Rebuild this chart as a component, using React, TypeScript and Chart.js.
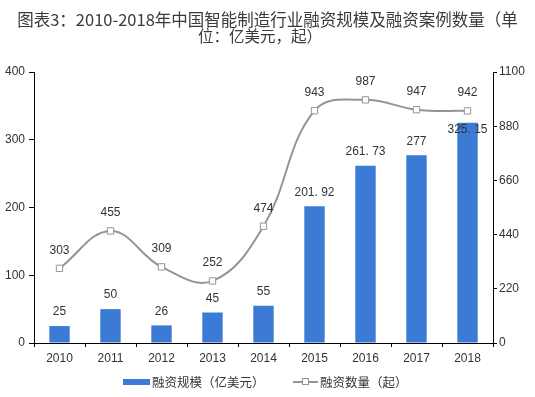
import React, { useEffect, useRef } from "react";
import { Chart, registerables } from "chart.js";

Chart.register(...registerables);

const categories = ["2010", "2011", "2012", "2013", "2014", "2015", "2016", "2017", "2018"];
const fundingValues = [25, 50, 26, 45, 55, 201.92, 261.73, 277, 325.15];
const fundingLabels = ["25", "50", "26", "45", "55", "201. 92", "261. 73", "277", "325. 15"];
const dealCounts = [303, 455, 309, 252, 474, 943, 987, 947, 942];
const leftTicks = [0, 100, 200, 300, 400];
const rightTicks = [0, 220, 440, 660, 880, 1100];

const titleLines = ["图表3：2010-2018年中国智能制造行业融资规模及融资案例数量（单", "位：亿美元，起）"];
const barSeriesName = "融资规模（亿美元）";
const lineSeriesName = "融资数量（起）";

const BAR_COLOR = "#3b7bd6";
const LINE_COLOR = "#8f979e";
const TEXT_COLOR = "#333333";
const NUM_FONT = '"Liberation Sans", Arial, sans-serif';
const CJK_FONT = '"Noto Sans CJK SC", "Liberation Sans", sans-serif';

const decorPlugin = {
  id: "decor",
  afterDatasetsDraw(chart: any) {
    const ctx = chart.ctx;
    const barMeta = chart.getDatasetMeta(0);
    const lineMeta = chart.getDatasetMeta(1);
    ctx.save();
    ctx.fillStyle = TEXT_COLOR;
    ctx.font = `12px ${NUM_FONT}`;
    ctx.textAlign = "center";
    ctx.textBaseline = "middle";
    lineMeta.data.forEach((pt: any, i: number) => {
      ctx.fillText(String(dealCounts[i]), pt.x, pt.y - 18);
    });
    barMeta.data.forEach((bar: any, i: number) => {
      let y = bar.y - 14;
      const pt = lineMeta.data[i];
      if (Math.abs(y - pt.y) < 16) y = bar.y + 7;
      ctx.fillText(fundingLabels[i], bar.x, y);
    });
    ctx.restore();
  },
  afterDraw(chart: any) {
    const ctx = chart.ctx;
    const w = chart.width;
    ctx.save();
    ctx.fillStyle = "#3a3a3a";
    ctx.textBaseline = "middle";
    ctx.font = `16.5px ${CJK_FONT}`;
    ctx.textAlign = "center";
    ctx.fillText(titleLines[0], w / 2, 20);
    ctx.font = `15.5px ${CJK_FONT}`;
    ctx.textAlign = "left";
    ctx.fillText(titleLines[1], 198, 36);

    // legend
    const ly = 382;
    ctx.font = `12.5px ${CJK_FONT}`;
    ctx.textAlign = "left";
    ctx.fillStyle = BAR_COLOR;
    ctx.fillRect(123, ly - 3, 27, 6);
    ctx.fillStyle = TEXT_COLOR;
    ctx.fillText(barSeriesName, 152, ly);

    ctx.strokeStyle = LINE_COLOR;
    ctx.lineWidth = 2;
    ctx.beginPath();
    ctx.moveTo(293, ly);
    ctx.lineTo(318, ly);
    ctx.stroke();
    ctx.fillStyle = "#ffffff";
    ctx.lineWidth = 1;
    ctx.fillRect(302, ly - 3, 6, 6);
    ctx.strokeRect(302.5, ly - 3.5, 6, 6);
    ctx.fillStyle = TEXT_COLOR;
    ctx.fillText(lineSeriesName, 320, ly);
    ctx.restore();
  },
};

export default function App() {
  const ref = useRef<HTMLCanvasElement>(null);
  useEffect(() => {
    if (!ref.current) return;
    const chart = new Chart(ref.current, {
      type: "bar",
      data: {
        labels: categories,
        datasets: [
          {
            type: "bar",
            label: barSeriesName,
            data: fundingValues,
            backgroundColor: BAR_COLOR,
            barPercentage: 0.4,
            categoryPercentage: 1,
            yAxisID: "y",
            order: 2,
          },
          {
            type: "line",
            label: lineSeriesName,
            data: dealCounts,
            borderColor: LINE_COLOR,
            borderWidth: 2,
            tension: 0.4,
            pointStyle: "rect",
            pointRadius: 4.5,
            pointBorderWidth: 1,
            pointBackgroundColor: "#ffffff",
            pointBorderColor: LINE_COLOR,
            yAxisID: "y1",
            order: 1,
          } as any,
        ],
      },
      options: {
        responsive: false,
        animation: false,
        devicePixelRatio: 1,
        layout: { padding: { top: 72, bottom: 34, left: 0, right: 0 } },
        plugins: {
          legend: { display: false },
          title: { display: false },
          tooltip: { enabled: false },
        },
        scales: {
          x: {
            grid: { offset: true, drawOnChartArea: false, tickLength: 4, color: "#000" },
            border: { color: "#000", width: 1 },
            ticks: { color: TEXT_COLOR, font: { family: NUM_FONT, size: 12 }, padding: 4, maxRotation: 0 },
            afterFit: (s: any) => { s.height = 20; },
          },
          y: {
            position: "left",
            min: 0,
            max: 400,
            afterBuildTicks: (s: any) => { s.ticks = leftTicks.map((v) => ({ value: v })); },
            grid: { drawOnChartArea: false, tickLength: 5, color: "#000" },
            border: { color: "#000", width: 1 },
            ticks: { color: TEXT_COLOR, font: { family: NUM_FONT, size: 12 }, padding: 4, callback: (v: any) => String(v) },
            afterFit: (s: any) => { s.width = 34; },
          },
          y1: {
            position: "right",
            min: 0,
            max: 1100,
            afterBuildTicks: (s: any) => { s.ticks = rightTicks.map((v) => ({ value: v })); },
            grid: { drawOnChartArea: false, tickLength: 4, color: "#000" },
            border: { color: "#000", width: 1 },
            ticks: { color: TEXT_COLOR, font: { family: NUM_FONT, size: 12 }, padding: 2, callback: (v: any) => String(v) },
            afterFit: (s: any) => { s.width = 42; },
          },
        },
      },
      plugins: [decorPlugin],
    });
    return () => chart.destroy();
  }, []);
  return (
    <div style={{ position: "fixed", left: 0, top: 0, width: 535, height: 397, background: "#fff" }}>
      <canvas ref={ref} width={535} height={397} style={{ display: "block" }} />
    </div>
  );
}
